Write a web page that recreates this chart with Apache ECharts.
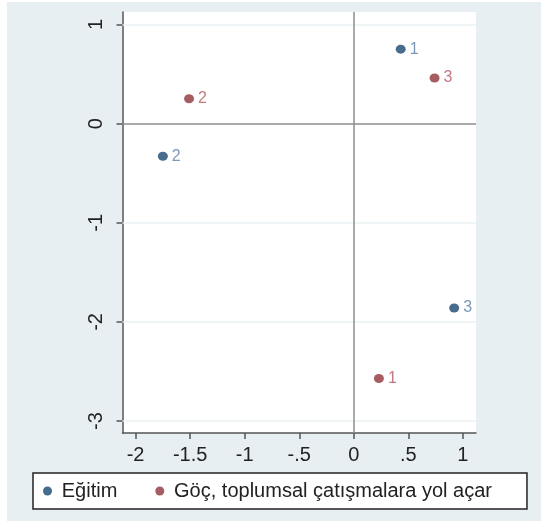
<!DOCTYPE html>
<html>
<head>
<meta charset="utf-8">
<script src="https://cdn.jsdelivr.net/npm/echarts@6/dist/echarts.min.js"></script>
<style>
  html, body { margin: 0; padding: 0; background: #fff; }
  #chart { width: 541px; height: 524px; }
</style>
</head>
<body>
<div id="chart"></div>
<script>
// noktalar (1, 2, 3)
const pointLabels = ['1', '2', '3'];
const egitimX = [0.43, -1.75, 0.92];
const egitimY = [0.75, -0.33, -1.86];
const gocX = [0.23, -1.51, 0.74];
const gocY = [-2.57, 0.25, 0.46];

const xTicks = [-2, -1.5, -1, -0.5, 0, 0.5, 1];
const yTicks = [1, 0, -1, -2, -3];
const seriesNames = ['Eğitim', 'Göç, toplumsal çatışmalara yol açar'];

const font = 'Liberation Sans, Arial, sans-serif';

function stataNum (v) {
    // .5 / -.5 gibi, baştaki sıfır yok
    let s = String(v);
    return s.replace(/^(-?)0\./, '$1.');
}

function toPoints (xs, ys) {
    return xs.map((x, i) => [x, ys[i], pointLabels[i]]);
}

let chart = echarts.init(document.getElementById('chart'));

let gridLines = yTicks.filter(v => v !== 0).map(v => ({
    yAxis: v,
    lineStyle: { color: '#eaf2f3', width: 1.5, type: 'solid' }
}));
gridLines.push({ yAxis: 0, lineStyle: { color: '#8e8e8e', width: 1.5, type: 'solid' } });
gridLines.push({ xAxis: 0, lineStyle: { color: '#8e8e8e', width: 1.5, type: 'solid' } });

chart.setOption({
    backgroundColor: '#fff',
    animation: false,
    graphic: [{
        type: 'rect',
        z: -10,
        shape: { x: 7, y: 2, width: 534, height: 519 },
        style: { fill: '#e8eff2' }
    }],
    grid: {
        left: 122.5,
        right: 65,
        top: 12,
        bottom: 91,
        show: true,
        backgroundColor: '#fff',
        borderWidth: 0
    },
    legend: {
        data: seriesNames,
        left: 33,
        top: 473,
        orient: 'horizontal',
        backgroundColor: '#fff',
        borderColor: '#222',
        borderWidth: 1.5,
        borderRadius: 0,
        padding: [8, 35, 8, 10],
        itemWidth: 18.5,
        itemHeight: 9,
        itemGap: 38,
        icon: 'circle',
        textStyle: { fontFamily: font, fontSize: 20, color: '#222' }
    },
    xAxis: {
        type: 'value',
        min: -2.12,
        max: 1.12,
        splitLine: { show: false },
        axisLine: { onZero: false, lineStyle: { color: '#555', width: 1.5 } },
        axisTick: { show: true, length: 6, customValues: xTicks, lineStyle: { color: '#555', width: 1.5 } },
        axisLabel: {
            customValues: xTicks,
            formatter: stataNum,
            margin: 12,
            fontFamily: font,
            fontSize: 20,
            color: '#222'
        }
    },
    yAxis: {
        type: 'value',
        min: -3.12,
        max: 1.125,
        splitLine: { show: false },
        axisLine: { show: true, onZero: false, lineStyle: { color: '#555', width: 1.5 } },
        axisTick: { show: true, length: 6, customValues: yTicks, lineStyle: { color: '#555', width: 1.5 } },
        axisLabel: {
            customValues: yTicks,
            formatter: stataNum,
            rotate: 90,
            margin: 16,
            fontFamily: font,
            fontSize: 20,
            color: '#222'
        }
    },
    series: [
        {
            name: seriesNames[0],
            type: 'scatter',
            symbolSize: [10, 9],
            itemStyle: { color: '#1a476f' },
            data: toPoints(egitimX, egitimY),
            label: {
                show: true,
                position: 'right',
                distance: 4,
                formatter: p => p.data[2],
                fontFamily: font,
                fontSize: 16,
                color: '#5b7fa6'
            },
            markLine: {
                silent: true,
                symbol: 'none',
                label: { show: false },
                data: gridLines
            }
        },
        {
            name: seriesNames[1],
            type: 'scatter',
            symbolSize: [10, 9],
            itemStyle: { color: '#90353b' },
            data: toPoints(gocX, gocY),
            label: {
                show: true,
                position: 'right',
                distance: 4,
                formatter: p => p.data[2],
                fontFamily: font,
                fontSize: 16,
                color: '#b0575f'
            }
        }
    ]
});
</script>
</body>
</html>
